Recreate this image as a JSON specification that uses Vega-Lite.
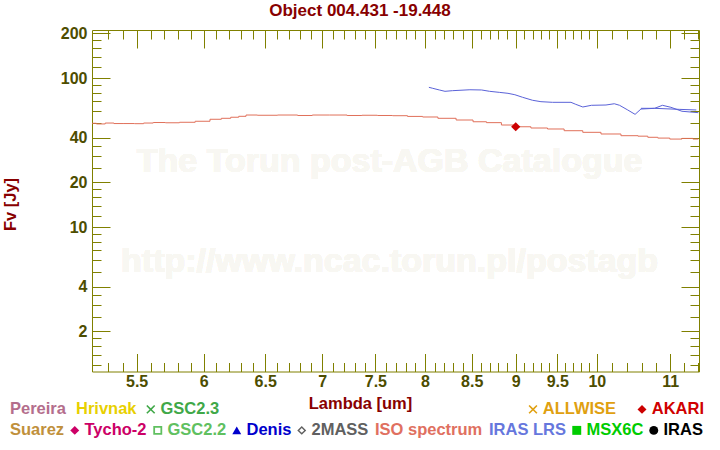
{
  "$schema": "https://vega.github.io/schema/vega-lite/v6.json",
  "width": 607,
  "height": 341.5,
  "autosize": {"type": "none"},
  "padding": {"left": 92, "top": 30, "right": 21, "bottom": 78.5},
  "background": "white",
  "title": {"text": "Object 004.431 -19.448", "font": "Liberation Sans", "fontSize": 17, "fontWeight": "bold", "color": "#880000", "anchor": "middle", "frame": "group", "dx": -35.5, "offset": 5},
  "config": {
    "view": {"stroke": null},
    "font": "Liberation Sans",
    "axis": {"grid": false, "domainColor": "#808000", "tickColor": "#808000", "domainWidth": 1, "tickWidth": 1, "labelFont": "Liberation Sans", "labelFontSize": 16, "labelFontWeight": "bold", "labelColor": "#4d4d00", "labelFlush": false, "labelOverlap": false, "format": "~g", "titleFont": "Liberation Sans", "titleFontSize": 16.5, "titleFontWeight": "bold", "titleColor": "#880000"},
    "legend": {"labelFont": "Liberation Sans", "labelFontSize": 16.5, "labelFontWeight": "bold", "symbolSize": 80, "labelOffset": 1.5, "columnPadding": 2, "padding": 0, "symbolStrokeWidth": 0}
  },
  "data": {"values": [
    {"source": "ISO spectrum", "seg": "iso", "lambda": 5.19, "flux": 49.9},
    {"source": "ISO spectrum", "seg": "iso", "lambda": 5.25, "flux": 49.4},
    {"source": "ISO spectrum", "seg": "iso", "lambda": 5.31, "flux": 50.1},
    {"source": "ISO spectrum", "seg": "iso", "lambda": 5.37, "flux": 49.7},
    {"source": "ISO spectrum", "seg": "iso", "lambda": 5.45, "flux": 49.7},
    {"source": "ISO spectrum", "seg": "iso", "lambda": 5.52, "flux": 49.6},
    {"source": "ISO spectrum", "seg": "iso", "lambda": 5.58, "flux": 50.1},
    {"source": "ISO spectrum", "seg": "iso", "lambda": 5.66, "flux": 50.5},
    {"source": "ISO spectrum", "seg": "iso", "lambda": 5.76, "flux": 50.3},
    {"source": "ISO spectrum", "seg": "iso", "lambda": 5.87, "flux": 50.7},
    {"source": "ISO spectrum", "seg": "iso", "lambda": 6.0, "flux": 51.5},
    {"source": "ISO spectrum", "seg": "iso", "lambda": 6.1, "flux": 53.1},
    {"source": "ISO spectrum", "seg": "iso", "lambda": 6.18, "flux": 53.9},
    {"source": "ISO spectrum", "seg": "iso", "lambda": 6.25, "flux": 54.8},
    {"source": "ISO spectrum", "seg": "iso", "lambda": 6.31, "flux": 55.6},
    {"source": "ISO spectrum", "seg": "iso", "lambda": 6.37, "flux": 56.7},
    {"source": "ISO spectrum", "seg": "iso", "lambda": 6.5, "flux": 56.5},
    {"source": "ISO spectrum", "seg": "iso", "lambda": 6.71, "flux": 56.7},
    {"source": "ISO spectrum", "seg": "iso", "lambda": 6.85, "flux": 56.3},
    {"source": "ISO spectrum", "seg": "iso", "lambda": 6.97, "flux": 56.7},
    {"source": "ISO spectrum", "seg": "iso", "lambda": 7.16, "flux": 56.7},
    {"source": "ISO spectrum", "seg": "iso", "lambda": 7.3, "flux": 56.3},
    {"source": "ISO spectrum", "seg": "iso", "lambda": 7.44, "flux": 56.5},
    {"source": "ISO spectrum", "seg": "iso", "lambda": 7.6, "flux": 56.3},
    {"source": "ISO spectrum", "seg": "iso", "lambda": 7.74, "flux": 56.1},
    {"source": "ISO spectrum", "seg": "iso", "lambda": 7.9, "flux": 55.5},
    {"source": "ISO spectrum", "seg": "iso", "lambda": 8.05, "flux": 55.0},
    {"source": "ISO spectrum", "seg": "iso", "lambda": 8.22, "flux": 53.9},
    {"source": "ISO spectrum", "seg": "iso", "lambda": 8.44, "flux": 52.5},
    {"source": "ISO spectrum", "seg": "iso", "lambda": 8.59, "flux": 51.1},
    {"source": "ISO spectrum", "seg": "iso", "lambda": 8.74, "flux": 50.4},
    {"source": "ISO spectrum", "seg": "iso", "lambda": 8.93, "flux": 48.6},
    {"source": "ISO spectrum", "seg": "iso", "lambda": 9.08, "flux": 47.3},
    {"source": "ISO spectrum", "seg": "iso", "lambda": 9.28, "flux": 46.4},
    {"source": "ISO spectrum", "seg": "iso", "lambda": 9.48, "flux": 45.7},
    {"source": "ISO spectrum", "seg": "iso", "lambda": 9.69, "flux": 44.5},
    {"source": "ISO spectrum", "seg": "iso", "lambda": 9.95, "flux": 43.4},
    {"source": "ISO spectrum", "seg": "iso", "lambda": 10.16, "flux": 42.3},
    {"source": "ISO spectrum", "seg": "iso", "lambda": 10.48, "flux": 41.2},
    {"source": "ISO spectrum", "seg": "iso", "lambda": 10.62, "flux": 40.9},
    {"source": "ISO spectrum", "seg": "iso", "lambda": 10.75, "flux": 40.2},
    {"source": "ISO spectrum", "seg": "iso", "lambda": 10.9, "flux": 39.7},
    {"source": "ISO spectrum", "seg": "iso", "lambda": 11.09, "flux": 39.1},
    {"source": "ISO spectrum", "seg": "iso", "lambda": 11.25, "flux": 39.5},
    {"source": "ISO spectrum", "seg": "iso", "lambda": 11.41, "flux": 39.1},
    {"source": "IRAS LRS", "seg": "lrs1", "lambda": 8.04, "flux": 87.0},
    {"source": "IRAS LRS", "seg": "lrs1", "lambda": 8.08, "flux": 85.7},
    {"source": "IRAS LRS", "seg": "lrs1", "lambda": 8.15, "flux": 83.5},
    {"source": "IRAS LRS", "seg": "lrs1", "lambda": 8.21, "flux": 81.8},
    {"source": "IRAS LRS", "seg": "lrs1", "lambda": 8.29, "flux": 82.6},
    {"source": "IRAS LRS", "seg": "lrs1", "lambda": 8.48, "flux": 83.8},
    {"source": "IRAS LRS", "seg": "lrs1", "lambda": 8.61, "flux": 83.5},
    {"source": "IRAS LRS", "seg": "lrs1", "lambda": 8.7, "flux": 81.8},
    {"source": "IRAS LRS", "seg": "lrs1", "lambda": 8.81, "flux": 80.5},
    {"source": "IRAS LRS", "seg": "lrs1", "lambda": 8.91, "flux": 79.3},
    {"source": "IRAS LRS", "seg": "lrs1", "lambda": 8.99, "flux": 77.6},
    {"source": "IRAS LRS", "seg": "lrs1", "lambda": 9.08, "flux": 74.6},
    {"source": "IRAS LRS", "seg": "lrs1", "lambda": 9.2, "flux": 71.2},
    {"source": "IRAS LRS", "seg": "lrs1", "lambda": 9.3, "flux": 69.7},
    {"source": "IRAS LRS", "seg": "lrs1", "lambda": 9.44, "flux": 69.0},
    {"source": "IRAS LRS", "seg": "lrs1", "lambda": 9.67, "flux": 69.0},
    {"source": "IRAS LRS", "seg": "lrs1", "lambda": 9.73, "flux": 66.9},
    {"source": "IRAS LRS", "seg": "lrs1", "lambda": 9.82, "flux": 64.2},
    {"source": "IRAS LRS", "seg": "lrs1", "lambda": 9.93, "flux": 65.9},
    {"source": "IRAS LRS", "seg": "lrs1", "lambda": 10.12, "flux": 66.2},
    {"source": "IRAS LRS", "seg": "lrs1", "lambda": 10.23, "flux": 67.5},
    {"source": "IRAS LRS", "seg": "lrs1", "lambda": 10.3, "flux": 65.9},
    {"source": "IRAS LRS", "seg": "lrs1", "lambda": 10.41, "flux": 61.3},
    {"source": "IRAS LRS", "seg": "lrs1", "lambda": 10.51, "flux": 57.3},
    {"source": "IRAS LRS", "seg": "lrs1", "lambda": 10.59, "flux": 62.2},
    {"source": "IRAS LRS", "seg": "lrs1", "lambda": 10.78, "flux": 62.9},
    {"source": "IRAS LRS", "seg": "lrs1", "lambda": 11.13, "flux": 61.9},
    {"source": "IRAS LRS", "seg": "lrs1", "lambda": 11.38, "flux": 61.3},
    {"source": "IRAS LRS", "seg": "lrs2", "lambda": 10.59, "flux": 62.9},
    {"source": "IRAS LRS", "seg": "lrs2", "lambda": 10.78, "flux": 62.9},
    {"source": "IRAS LRS", "seg": "lrs2", "lambda": 10.89, "flux": 65.9},
    {"source": "IRAS LRS", "seg": "lrs2", "lambda": 11.01, "flux": 63.9},
    {"source": "IRAS LRS", "seg": "lrs2", "lambda": 11.17, "flux": 60.1},
    {"source": "IRAS LRS", "seg": "lrs2", "lambda": 11.41, "flux": 58.8},
    {"source": "AKARI", "seg": "akari", "lambda": 9.0, "flux": 47.3}
  ]},
  "layer": [
    {
      "mark": {"type": "text", "font": "Liberation Sans", "fontSize": 34, "fontWeight": "bold", "color": "#f8f7f2", "align": "center", "baseline": "middle"},
      "encoding": {
        "x": {"datum": 7.64, "type": "quantitative", "scale": {"type": "log", "domain": [5.19, 11.42], "nice": false}, "axis": null},
        "y": {"datum": 27.4, "type": "quantitative", "scale": {"type": "log", "domain": [1.077, 211], "nice": false}, "axis": null},
        "text": {"value": "The Torun post-AGB Catalogue"}
      }
    },
    {
      "mark": {"type": "text", "font": "Liberation Sans", "fontSize": 34, "fontWeight": "bold", "color": "#f8f7f2", "align": "center", "baseline": "middle"},
      "encoding": {
        "x": {"datum": 7.64, "type": "quantitative", "scale": {"type": "log", "domain": [5.19, 11.42], "nice": false}, "axis": null},
        "y": {"datum": 5.85, "type": "quantitative", "scale": {"type": "log", "domain": [1.077, 211], "nice": false}, "axis": null},
        "text": {"value": "http://www.ncac.torun.pl/postagb"}
      }
    },
    {
      "transform": [{"filter": {"field": "source", "equal": "ISO spectrum"}}],
      "mark": {"type": "line", "color": "#e0705a", "strokeWidth": 1, "interpolate": "step"},
      "encoding": {
        "x": {"field": "lambda", "type": "quantitative", "scale": {"type": "log", "domain": [5.19, 11.42], "nice": false},
          "axis": {"orient": "bottom", "values": [5.5, 6, 6.5, 7, 7.5, 8, 8.5, 9, 9.5, 10, 11], "tickSize": -18, "labelPadding": 20, "title": "Lambda [um]", "titleX": 268, "titleY": 32, "titleAlign": "center", "titleBaseline": "middle"}},
        "y": {"field": "flux", "type": "quantitative", "scale": {"type": "log", "domain": [1.077, 211], "nice": false},
          "axis": {"orient": "left", "values": [2, 4, 10, 20, 40, 100, 200], "tickSize": -18, "labelPadding": 23, "title": "Fv [Jy]", "titleX": -82, "titleY": 174, "titleAngle": 270, "titleAlign": "center", "titleBaseline": "middle"}}
      }
    },
    {
      "transform": [{"filter": {"field": "source", "equal": "IRAS LRS"}}],
      "mark": {"type": "line", "color": "#5a62d8", "strokeWidth": 1},
      "encoding": {
        "x": {"field": "lambda", "type": "quantitative", "scale": {"type": "log", "domain": [5.19, 11.42], "nice": false},
          "axis": {"orient": "bottom", "values": [5.3, 5.4, 5.6, 5.7, 5.8, 5.9, 6.1, 6.2, 6.3, 6.4, 6.6, 6.7, 6.8, 6.9, 7.1, 7.2, 7.3, 7.4, 7.6, 7.7, 7.8, 7.9, 8.1, 8.2, 8.3, 8.4, 8.6, 8.7, 8.8, 8.9, 9.1, 9.2, 9.3, 9.4, 9.6, 9.7, 9.8, 9.9, 10.2, 10.4, 10.6, 10.8, 11.2, 11.4], "tickSize": -9, "labels": false, "domain": false, "title": null}},
        "y": {"field": "flux", "type": "quantitative", "scale": {"type": "log", "domain": [1.077, 211], "nice": false},
          "axis": {"orient": "left", "values": [1.2, 1.4, 1.6, 1.8, 2.5, 3, 3.5, 5, 6, 7, 8, 9, 12, 14, 16, 18, 25, 30, 35, 50, 60, 70, 80, 90, 120, 140, 160, 180], "tickSize": -9, "labels": false, "domain": false, "title": null}},
        "detail": {"field": "seg", "type": "nominal"}
      }
    },
    {
      "transform": [{"filter": {"field": "source", "oneOf": ["ALLWISE", "AKARI"]}}],
      "mark": {"type": "point", "filled": true, "opacity": 1, "size": 85},
      "encoding": {
        "x": {"field": "lambda", "type": "quantitative", "scale": {"type": "log", "domain": [5.19, 11.42], "nice": false},
          "axis": {"orient": "top", "values": [5.5, 6, 6.5, 7, 7.5, 8, 8.5, 9, 9.5, 10, 11], "tickSize": -18, "labels": false, "title": null}},
        "y": {"field": "flux", "type": "quantitative", "scale": {"type": "log", "domain": [1.077, 211], "nice": false},
          "axis": {"orient": "right", "values": [2, 4, 10, 20, 40, 100, 200], "tickSize": -18, "labels": false, "title": null}},
        "color": {"field": "source", "type": "nominal", "scale": {"domain": ["ALLWISE", "AKARI"], "range": ["#e0a010", "#cc0000"]},
          "legend": {"title": null, "orient": "none", "legendX": 432.75, "legendY": 371, "direction": "horizontal", "columns": 2, "columnPadding": 17, "labelColor": {"expr": "datum.value == 'ALLWISE' ? '#e0a010' : '#d00000'"}}},
        "shape": {"field": "source", "type": "nominal", "scale": {"domain": ["ALLWISE", "AKARI"], "range": ["M-1,-0.75L-0.75,-1L0,-0.25L0.75,-1L1,-0.75L0.25,0L1,0.75L0.75,1L0,0.25L-0.75,1L-1,0.75L-0.25,0Z", "diamond"]},
          "legend": {"title": null, "orient": "none", "legendX": 432.75, "legendY": 371, "direction": "horizontal", "columns": 2, "columnPadding": 17, "labelColor": {"expr": "datum.value == 'ALLWISE' ? '#e0a010' : '#d00000'"}}}
      }
    },
    {
      "transform": [{"filter": {"field": "source", "oneOf": ["Pereira", "Hrivnak", "GSC2.3"]}}],
      "mark": {"type": "point", "filled": true, "opacity": 1, "size": 80},
      "encoding": {
        "x": {"field": "lambda", "type": "quantitative", "scale": {"type": "log", "domain": [5.19, 11.42], "nice": false},
          "axis": {"orient": "top", "values": [5.3, 5.4, 5.6, 5.7, 5.8, 5.9, 6.1, 6.2, 6.3, 6.4, 6.6, 6.7, 6.8, 6.9, 7.1, 7.2, 7.3, 7.4, 7.6, 7.7, 7.8, 7.9, 8.1, 8.2, 8.3, 8.4, 8.6, 8.7, 8.8, 8.9, 9.1, 9.2, 9.3, 9.4, 9.6, 9.7, 9.8, 9.9, 10.2, 10.4, 10.6, 10.8, 11.2, 11.4], "tickSize": -9, "labels": false, "domain": false, "title": null}},
        "y": {"field": "flux", "type": "quantitative", "scale": {"type": "log", "domain": [1.077, 211], "nice": false},
          "axis": {"orient": "right", "values": [1.2, 1.4, 1.6, 1.8, 2.5, 3, 3.5, 5, 6, 7, 8, 9, 12, 14, 16, 18, 25, 30, 35, 50, 60, 70, 80, 90, 120, 140, 160, 180], "tickSize": -9, "labels": false, "domain": false, "title": null}},
        "color": {"field": "source", "type": "nominal", "scale": {"domain": ["Pereira", "Hrivnak", "GSC2.3"], "range": ["#b46e8c", "#e8d000", "#40a848"]},
          "legend": {"title": null, "orient": "none", "legendX": -86.5, "legendY": 371, "direction": "horizontal", "columns": 3, "columnPadding": 5, "labelOffset": {"expr": "datum.value == 'GSC2.3' ? 1.5 : -12"}, "labelColor": {"expr": "datum.value == 'Pereira' ? '#b46e8c' : datum.value == 'Hrivnak' ? '#e8d000' : '#40a848'"}}},
        "shape": {"field": "source", "type": "nominal", "scale": {"domain": ["Pereira", "Hrivnak", "GSC2.3"], "range": ["M0,0", "M0,0", "M-1,-0.75L-0.75,-1L0,-0.25L0.75,-1L1,-0.75L0.25,0L1,0.75L0.75,1L0,0.25L-0.75,1L-1,0.75L-0.25,0Z"]},
          "legend": {"title": null, "orient": "none", "legendX": -86.5, "legendY": 371, "direction": "horizontal", "columns": 3, "columnPadding": 5, "labelOffset": {"expr": "datum.value == 'GSC2.3' ? 1.5 : -12"}, "labelColor": {"expr": "datum.value == 'Pereira' ? '#b46e8c' : datum.value == 'Hrivnak' ? '#e8d000' : '#40a848'"}}}
      }
    },
    {
      "transform": [{"filter": {"field": "source", "oneOf": ["Suarez", "Tycho-2", "GSC2.2", "Denis", "2MASS", "MSX6C", "IRAS"]}}],
      "mark": {"type": "point", "filled": true, "opacity": 1, "size": 80},
      "encoding": {
        "x": {"field": "lambda", "type": "quantitative", "scale": {"type": "log", "domain": [5.19, 11.42], "nice": false}, "axis": null},
        "y": {"field": "flux", "type": "quantitative", "scale": {"type": "log", "domain": [1.077, 211], "nice": false}, "axis": null},
        "color": {"field": "source", "type": "nominal", "scale": {"domain": ["Suarez", "Tycho-2", "GSC2.2", "Denis", "2MASS", "ISO spectrum", "IRAS LRS", "MSX6C", "IRAS"], "range": ["#c0903c", "#cc0066", "#60c060", "#0000cc", "#606060", "#e07060", "#6677dd", "#00cc00", "#000000"]},
          "legend": {"title": null, "orient": "none", "legendX": -86.5, "legendY": 392, "direction": "horizontal", "columns": 9, "columnPadding": 2, "labelOffset": {"expr": "indexof(['Suarez', 'ISO spectrum', 'IRAS LRS'], datum.value) >= 0 ? -12 : 1.5"}, "labelColor": {"expr": "datum.value == 'Suarez' ? '#c0903c' : datum.value == 'Tycho-2' ? '#cc0066' : datum.value == 'GSC2.2' ? '#60c060' : datum.value == 'Denis' ? '#0000cc' : datum.value == '2MASS' ? '#606060' : datum.value == 'ISO spectrum' ? '#e07060' : datum.value == 'IRAS LRS' ? '#6677dd' : datum.value == 'MSX6C' ? '#00cc00' : '#000000'"}}},
        "shape": {"field": "source", "type": "nominal", "scale": {"domain": ["Suarez", "Tycho-2", "GSC2.2", "Denis", "2MASS", "ISO spectrum", "IRAS LRS", "MSX6C", "IRAS"], "range": ["M0,0", "diamond", "M-1,-1L1,-1L1,1L-1,1Z M-0.6,-0.6L-0.6,0.6L0.6,0.6L0.6,-0.6Z", "triangle-up", "M0,-1L1,0L0,1L-1,0Z M0,-0.55L-0.55,0L0,0.55L0.55,0Z", "M0,0", "M0,0", "square", "circle"]},
          "legend": {"title": null, "orient": "none", "legendX": -86.5, "legendY": 392, "direction": "horizontal", "columns": 9, "columnPadding": 2, "labelOffset": {"expr": "indexof(['Suarez', 'ISO spectrum', 'IRAS LRS'], datum.value) >= 0 ? -12 : 1.5"}, "labelColor": {"expr": "datum.value == 'Suarez' ? '#c0903c' : datum.value == 'Tycho-2' ? '#cc0066' : datum.value == 'GSC2.2' ? '#60c060' : datum.value == 'Denis' ? '#0000cc' : datum.value == '2MASS' ? '#606060' : datum.value == 'ISO spectrum' ? '#e07060' : datum.value == 'IRAS LRS' ? '#6677dd' : datum.value == 'MSX6C' ? '#00cc00' : '#000000'"}}}
      }
    }
  ],
  "resolve": {
    "axis": {"x": "independent", "y": "independent"},
    "scale": {"color": "independent", "shape": "independent"},
    "legend": {"color": "independent", "shape": "independent"}
  }
}
